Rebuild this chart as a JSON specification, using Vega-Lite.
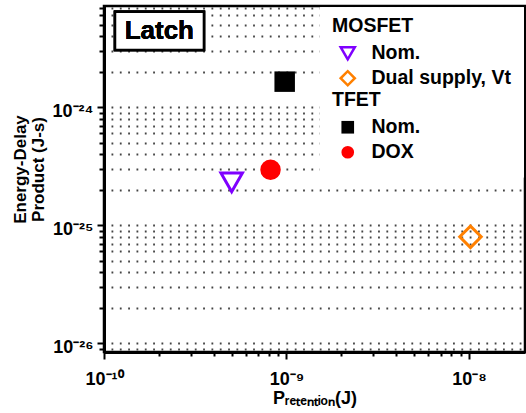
{
  "$schema": "https://vega.github.io/schema/vega-lite/v6.json",
  "width": 421,
  "height": 346,
  "autosize": {"type": "none"},
  "padding": {"left": 104, "top": 6, "right": 1, "bottom": 61},
  "background": "white",
  "config": {
    "font": "Liberation Sans",
    "view": {"stroke": "black", "strokeWidth": 2.5},
    "axis": {
      "domainColor": "black",
      "domainWidth": 3,
      "tickColor": "black",
      "tickWidth": 2,
      "labelFont": "Liberation Sans",
      "labelFontWeight": "bold",
      "labelFontSize": 18,
      "labelColor": "black",
      "titleFont": "Liberation Sans",
      "titleFontWeight": "bold",
      "titleColor": "black"
    },
    "legend": {
      "orient": "none",
      "padding": 0,
      "titleFont": "Liberation Sans",
      "titleFontSize": 19.5,
      "titleFontWeight": "bold",
      "titleColor": "black",
      "titlePadding": 7,
      "labelFont": "Liberation Sans",
      "labelFontSize": 19.5,
      "labelFontWeight": "bold",
      "labelColor": "black",
      "labelOffset": 14,
      "symbolOffset": 6,
      "symbolStrokeWidth": 2.5
    }
  },
  "data": {
    "values": [
      {"tech": "MOSFET", "series": "Nom.", "p": 5.01e-10, "edp": 2.31e-25},
      {"tech": "MOSFET", "series": "Dual supply, Vt", "p": 1.02e-8, "edp": 7.99e-26},
      {"tech": "TFET", "series": "Nom.", "p": 9.78e-10, "edp": 1.65e-24},
      {"tech": "TFET", "series": "DOX", "p": 8.18e-10, "edp": 2.95e-25}
    ]
  },
  "encoding": {
    "x": {
      "field": "p",
      "type": "quantitative",
      "scale": {"type": "log", "domain": [1e-10, 2.03e-8], "nice": false},
      "axis": {
        "title": "Pᵣₑₜₑₙₜᵢₒₙ(J)",
        "titleFontSize": 18,
        "titleY": 37,
        "grid": false,
        "values": [1e-10, 2e-10, 3e-10, 4e-10, 5e-10, 6e-10, 7e-10, 8e-10, 9e-10, 1e-9, 2e-9, 3e-9, 4e-9, 5e-9, 6e-9, 7e-9, 8e-9, 9e-9, 1e-8],
        "labelExpr": "datum.value === 1e-10 ? '10⁻¹⁰' : datum.value === 1e-9 ? '10⁻⁹' : datum.value === 1e-8 ? '10⁻⁸' : ''",
        "tickSize": {"condition": {"test": "datum.value === 1e-10 || datum.value === 1e-9 || datum.value === 1e-8", "value": 7}, "value": 4},
        "labelPadding": 11,
        "labelFlush": false,
        "labelOverlap": false
      }
    },
    "y": {
      "field": "edp",
      "type": "quantitative",
      "scale": {"type": "log", "domain": [8.44e-27, 7.22e-24], "nice": false},
      "axis": {
        "title": ["Energy-Delay", "Product (J-s)"],
        "titleFontSize": 17,
        "titleLineHeight": 18,
        "titlePadding": 5,
        "titleY": 163,
        "values": [9e-27, 1e-26, 2e-26, 3e-26, 4e-26, 5e-26, 6e-26, 7e-26, 8e-26, 9e-26, 1e-25, 2e-25, 3e-25, 4e-25, 5e-25, 6e-25, 7e-25, 8e-25, 9e-25, 1e-24, 2e-24, 3e-24, 4e-24, 5e-24, 6e-24, 7e-24],
        "labelExpr": "datum.value === 1e-26 ? '10⁻²⁶' : datum.value === 1e-25 ? '10⁻²⁵' : datum.value === 1e-24 ? '10⁻²⁴' : ''",
        "tickSize": {"condition": {"test": "datum.value === 1e-26 || datum.value === 1e-25 || datum.value === 1e-24", "value": 7}, "value": 5},
        "labelPadding": 4,
        "labelOffset": 4,
        "labelFlush": false,
        "labelOverlap": false,
        "grid": true,
        "gridColor": "#444444",
        "gridWidth": 1.8,
        "gridDash": [1.8, 6.53],
        "gridDashOffset": 1.33
      }
    }
  },
  "layer": [
    {
      "mark": {"type": "rect", "fill": "white", "stroke": null},
      "encoding": {
        "x": {"datum": 1.527e-9, "type": "quantitative"},
        "x2": {"datum": 2.0e-8},
        "y": {"datum": 2.55e-25, "type": "quantitative"},
        "y2": {"datum": 7.0e-24}
      }
    },
    {
      "mark": {"type": "rect", "fill": "white", "stroke": "black", "strokeWidth": 2.5},
      "encoding": {
        "x": {"datum": 1.149e-10, "type": "quantitative"},
        "x2": {"datum": 3.53e-10},
        "y": {"datum": 3.06e-24, "type": "quantitative"},
        "y2": {"datum": 6.46e-24}
      }
    },
    {
      "mark": {"type": "text", "text": "Latch", "font": "Liberation Sans", "fontSize": 26, "fontWeight": "bold", "color": "black", "align": "center", "baseline": "middle"},
      "encoding": {
        "x": {"datum": 2.01e-10, "type": "quantitative"},
        "y": {"datum": 4.43e-24, "type": "quantitative"}
      }
    },
    {
      "transform": [{"filter": "datum.tech === 'MOSFET'"}],
      "mark": {"type": "point", "filled": false, "strokeWidth": 3, "size": 460, "opacity": 1},
      "encoding": {
        "color": {
          "field": "series",
          "type": "nominal",
          "scale": {"domain": ["Nom.", "Dual supply, Vt"], "range": ["#7f00ff", "#ff8000"]},
          "legend": {"title": "MOSFET", "symbolSize": 200, "rowPadding": 1, "legendX": 228, "legendY": 11}
        },
        "shape": {
          "field": "series",
          "type": "nominal",
          "scale": {"domain": ["Nom.", "Dual supply, Vt"], "range": ["triangle-down", "diamond"]},
          "legend": {"title": "MOSFET", "symbolSize": 200, "rowPadding": 1, "legendX": 228, "legendY": 11}
        }
      }
    },
    {
      "transform": [{"filter": "datum.tech === 'TFET'"}],
      "mark": {"type": "point", "filled": true, "size": 420, "opacity": 1},
      "encoding": {
        "color": {
          "field": "series",
          "type": "nominal",
          "scale": {"domain": ["Nom.", "DOX"], "range": ["#000000", "#ff0000"]},
          "legend": {"title": "TFET", "symbolSize": 160, "rowPadding": 4, "legendX": 228, "legendY": 85}
        },
        "shape": {
          "field": "series",
          "type": "nominal",
          "scale": {"domain": ["Nom.", "DOX"], "range": ["square", "circle"]},
          "legend": {"title": "TFET", "symbolSize": 160, "rowPadding": 4, "legendX": 228, "legendY": 85}
        }
      }
    }
  ],
  "resolve": {"scale": {"color": "independent", "shape": "independent"}}
}
